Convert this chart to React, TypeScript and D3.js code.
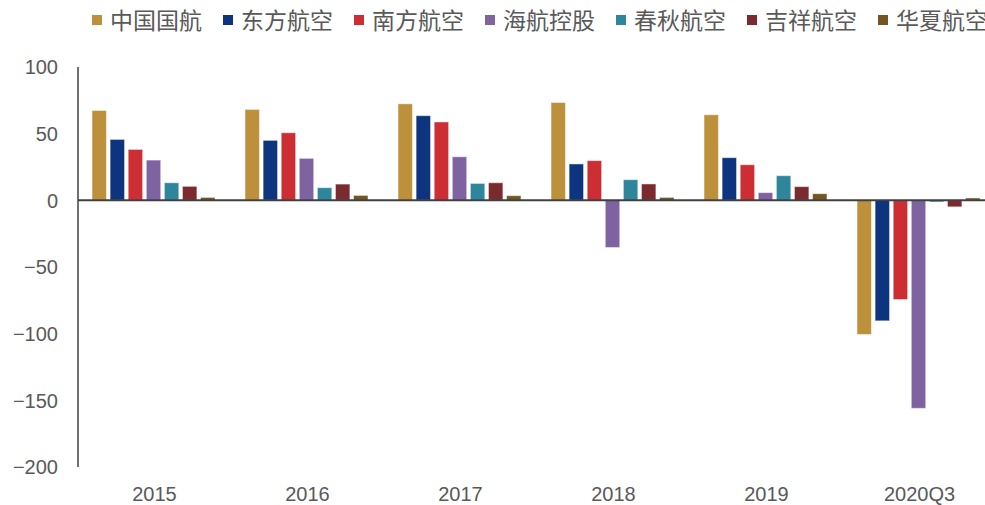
import React from "react";
import { scaleBand, scaleLinear } from "d3";

const categories = ["2015", "2016", "2017", "2018", "2019", "2020Q3"];
const seriesNames = ["中国国航", "东方航空", "南方航空", "海航控股", "春秋航空", "吉祥航空", "华夏航空"];
const colors = ["#BD913C", "#0D347F", "#CC2E33", "#7F62A0", "#2E869C", "#7B2B2E", "#735621"];

// one array per airline, values per category
const airChina = [67.4, 68.2, 72.4, 73.4, 64.2, -100.6];
const chinaEastern = [45.7, 45.0, 63.5, 27.3, 32.0, -90.4];
const chinaSouthern = [38.2, 50.7, 58.8, 29.8, 26.7, -74.4];
const hnaHolding = [30.2, 31.5, 32.7, -35.4, 5.8, -156.0];
const springAir = [13.2, 9.5, 12.7, 15.5, 18.5, -1.2];
const juneyaoAir = [10.5, 12.2, 13.2, 12.3, 10.3, -4.9];
const chinaExpress = [2.2, 3.7, 3.5, 2.2, 5.0, 1.8];

const seriesValues = [airChina, chinaEastern, chinaSouthern, hnaHolding, springAir, juneyaoAir, chinaExpress];
const yTicks = [100, 50, 0, -50, -100, -150, -200];

const numFont = "'Liberation Sans', Arial, sans-serif";
const cjkFont = "'Noto Sans CJK SC', sans-serif";

export default function App() {
  const left = 78;
  const bandW = 153;
  const x0 = scaleBand<string>()
    .domain(categories)
    .range([left, left + bandW * categories.length]);
  const x1 = scaleBand<number>()
    .domain(seriesNames.map((_, i) => i))
    .range([0, 123])
    .paddingInner(0.2);
  const y = scaleLinear().domain([-200, 100]).range([467, 67]);

  const fmt = (v: number) => (v < 0 ? "\u2212" + Math.abs(v) : String(v));

  return (
    <div style={{ position: "fixed", left: 0, top: 0, width: 985, height: 505, overflow: "hidden", background: "#fff" }}>
      <svg width={1000} height={505}>
        {/* legend */}
        {seriesNames.map((name, i) => (
          <g key={name} transform={`translate(${92 + i * 131},0)`}>
            <rect x={0} y={15} width={10} height={10} fill={colors[i]} />
            <text x={18} y={29} fontSize={23} fontFamily={cjkFont} fill="#595959">{name}</text>
          </g>
        ))}

        {/* y axis labels */}
        {yTicks.map((t) => (
          <text key={t} x={58} y={y(t)} dy="0.36em" textAnchor="end" fontSize={20} fontFamily={numFont} fill="#595959">
            {fmt(t)}
          </text>
        ))}

        {/* bars */}
        {categories.map((c, ci) => (
          <g key={c} transform={`translate(${(x0(c) ?? 0) + (bandW - 123) / 2 - 1},0)`}>
            {seriesValues.map((vals, si) => {
              const v = vals[ci];
              return (
                <rect
                  key={si}
                  x={x1(si)}
                  y={Math.min(y(v), y(0))}
                  width={x1.bandwidth()}
                  height={Math.abs(y(v) - y(0))}
                  fill={colors[si]}
                  stroke="#fff"
                  strokeOpacity={0.5}
                  strokeWidth={1}
                />
              );
            })}
          </g>
        ))}

        {/* axes */}
        <line x1={left} x2={1000} y1={y(0)} y2={y(0)} stroke="#404040" strokeWidth={2} />
        <line x1={left} x2={left} y1={y(100)} y2={y(-200)} stroke="#404040" strokeWidth={1.5} />

        {/* x labels */}
        {categories.map((c) => (
          <text key={c} x={(x0(c) ?? 0) + bandW / 2} y={501} textAnchor="middle" fontSize={20} fontFamily={numFont} fill="#595959">
            {c}
          </text>
        ))}
      </svg>
    </div>
  );
}
